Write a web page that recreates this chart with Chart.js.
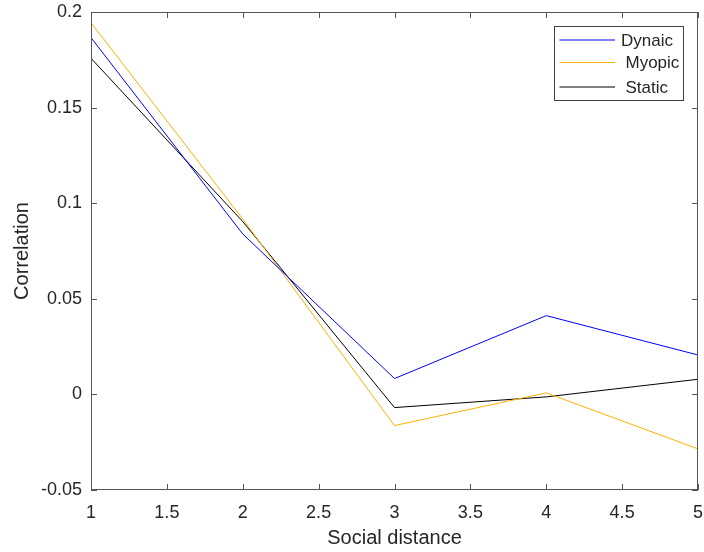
<!DOCTYPE html>
<html>
<head>
<meta charset="utf-8">
<script src="https://cdn.jsdelivr.net/npm/chart.js@4"></script>
<style>
  html, body { margin: 0; padding: 0; background: #fff; }
  #wrap { width: 704px; height: 552px; }
</style>
</head>
<body>
<div id="wrap"><canvas id="grafico"></canvas></div>
<script>
// datos
var distancia = [1, 2, 3, 4, 5];
var dynaic = [0.1866, 0.0839, 0.0083, 0.0412, 0.0206];
var myopic = [0.1944, 0.0917, -0.0163, 0.0008, -0.0285];
var estatico = [0.1758, 0.0904, -0.0069, -0.0013, 0.0079];
var nombres = ["Dynaic", "Myopic", "Static"];
var colores = ["#0000ff", "#ffb000", "#000000"];

var fuente = "Arial, 'Liberation Sans', Helvetica, sans-serif";

function puntos(valores) {
    return distancia.map(function (d, i) { return { x: d, y: valores[i] }; });
}

function etiqueta(v) {
    return Math.round(v * 100) / 100;
}

// caja y marcas hacia dentro, estilo matlab
var cajaMatlab = {
    id: "cajaMatlab",
    afterDatasetsDraw: function (chart) {
        var ctx = chart.ctx;
        var a = chart.chartArea;
        var sx = chart.scales.x;
        var sy = chart.scales.y;
        ctx.save();
        ctx.strokeStyle = "#555555";
        ctx.lineWidth = 1;
        ctx.strokeRect(a.left + 0.5, a.top + 0.5, a.right - a.left - 1, a.bottom - a.top - 1);
        ctx.beginPath();
        sx.ticks.forEach(function (t) {
            var px = Math.round(sx.getPixelForValue(t.value)) + 0.5;
            ctx.moveTo(px, a.bottom); ctx.lineTo(px, a.bottom - 6);
            ctx.moveTo(px, a.top); ctx.lineTo(px, a.top + 6);
        });
        sy.ticks.forEach(function (t) {
            var py = Math.round(sy.getPixelForValue(t.value)) + 0.5;
            ctx.moveTo(a.left, py); ctx.lineTo(a.left + 6, py);
            ctx.moveTo(a.right, py); ctx.lineTo(a.right - 6, py);
        });
        ctx.stroke();

        // leyenda
        var x0 = 554.5, y0 = 26.5, w = 129, h = 74;
        ctx.fillStyle = "#ffffff";
        ctx.fillRect(x0, y0, w, h);
        ctx.strokeStyle = "#404040";
        ctx.strokeRect(x0, y0, w, h);
        var filas = [40, 62.5, 87];
        var textoX = [621, 625.5, 625.5];
        ctx.font = "17px " + fuente;
        ctx.textBaseline = "middle";
        ctx.textAlign = "left";
        chart.data.datasets.forEach(function (ds, i) {
            ctx.strokeStyle = ds.borderColor;
            ctx.beginPath();
            ctx.moveTo(559.5, filas[i]);
            ctx.lineTo(615, filas[i]);
            ctx.stroke();
            ctx.fillStyle = "#262626";
            ctx.fillText(ds.label, textoX[i], filas[i] + 1);
        });
        ctx.restore();
    }
};

var ctx = document.getElementById("grafico").getContext("2d");
var chart = new Chart(ctx, {
    type: "line",
    data: {
        datasets: [
            { label: nombres[0], data: puntos(dynaic), borderColor: colores[0], borderWidth: 1, pointRadius: 0, fill: false, tension: 0 },
            { label: nombres[1], data: puntos(myopic), borderColor: colores[1], borderWidth: 1, pointRadius: 0, fill: false, tension: 0 },
            { label: nombres[2], data: puntos(estatico), borderColor: colores[2], borderWidth: 1, pointRadius: 0, fill: false, tension: 0 }
        ]
    },
    options: {
        responsive: true,
        maintainAspectRatio: false,
        animation: false,
        layout: { padding: { left: 0, right: 6, top: 12, bottom: 0 } },
        plugins: {
            legend: { display: false },
            tooltip: { enabled: false }
        },
        scales: {
            x: {
                type: "linear",
                min: 1,
                max: 5,
                afterFit: function (s) { s.height = 62; s.paddingLeft = 0; s.paddingRight = 0; },
                ticks: { stepSize: 0.5, color: "#262626", font: { family: fuente, size: 18 }, padding: 12, maxRotation: 0,
                    callback: etiqueta },
                grid: { display: false, drawTicks: false },
                border: { display: false },
                title: { display: true, text: "Social distance", color: "#262626", font: { family: fuente, size: 20 }, padding: { top: 0, bottom: 2 } }
            },
            y: {
                min: -0.05,
                max: 0.2,
                afterFit: function (s) { s.width = 91; s.paddingTop = 0; s.paddingBottom = 0; },
                ticks: { stepSize: 0.05, color: "#262626", font: { family: fuente, size: 18 }, padding: 9,
                    callback: etiqueta },
                grid: { display: false, drawTicks: false },
                border: { display: false },
                title: { display: true, text: "Correlation", color: "#262626", font: { family: fuente, size: 20 }, padding: { top: 10, bottom: 0 } }
            }
        }
    },
    plugins: [cajaMatlab]
});
</script>
</body>
</html>
